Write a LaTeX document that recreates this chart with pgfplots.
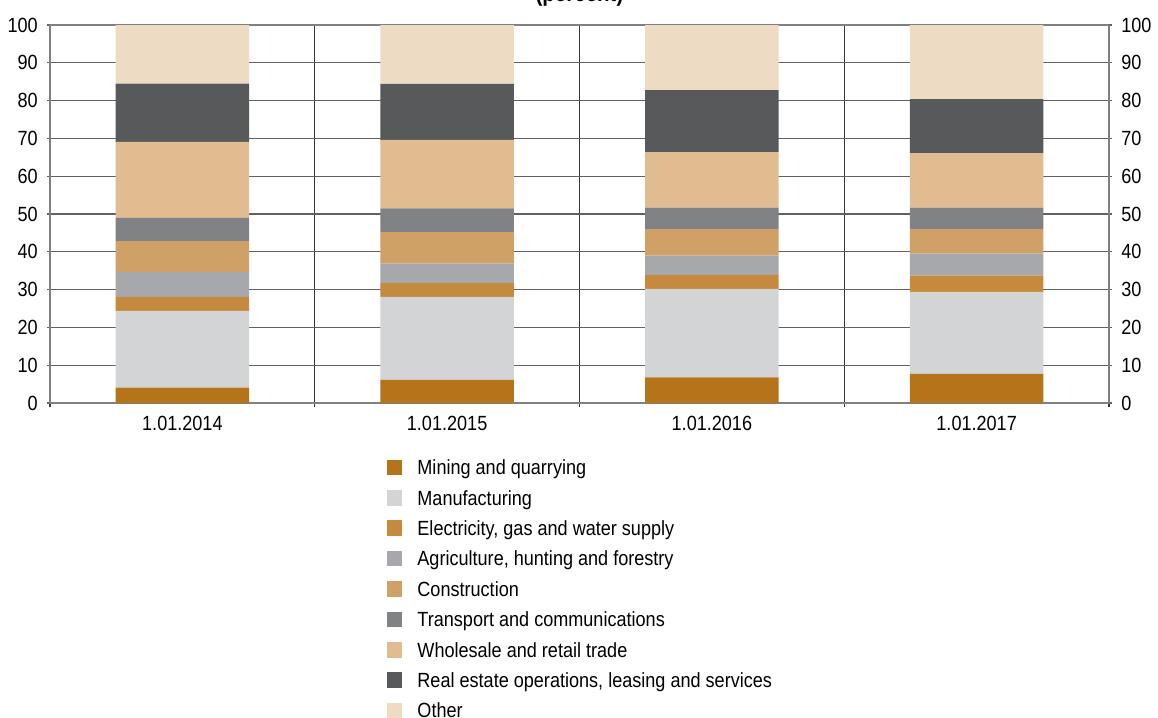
\documentclass[border=0pt]{standalone}
\usepackage{fontspec}
\setmainfont{Liberation Sans}[FakeStretch=0.88]
\usepackage{pgfplots}
\usepackage{pgfplotstable}
\pgfplotsset{compat=1.18}

\definecolor{cMin}{HTML}{B5731A}
\definecolor{cMan}{HTML}{D3D4D6}
\definecolor{cEle}{HTML}{C68A3E}
\definecolor{cAgr}{HTML}{A7A8AB}
\definecolor{cCon}{HTML}{D0A166}
\definecolor{cTra}{HTML}{818285}
\definecolor{cWho}{HTML}{E1BC91}
\definecolor{cRea}{HTML}{58595B}
\definecolor{cOth}{HTML}{EDDCC3}

\pgfplotstableread{
x mining manuf elec agri constr transp whole real other
0 4.1 20.3 3.7 6.5 8.2 6.2 20.1 15.4 15.5
1 6.1 22.0 3.6 5.2 8.3 6.3 18.1 14.8 15.6
2 6.8 23.4 3.6 5.2 7.0 5.7 14.7 16.4 17.2
3 7.7 21.7 4.3 5.8 6.5 5.7 14.4 14.3 19.6
}\data

\begin{document}
\fontsize{15.4pt}{18pt}\selectfont
\begin{tikzpicture}
\begin{axis}[
  scale only axis, width=794.25pt, height=283.5pt,
  ybar stacked, bar width=100pt,
  xmin=-0.5, xmax=3.5, ymin=0, ymax=100,
  /pgf/number format/assume math mode=true,
  xtick={0,1,2,3},
  xticklabels={1.01.2014,1.01.2015,1.01.2016,1.01.2017},
  major x tick style={draw=none},
  minor xtick={-0.5,0.5,1.5,2.5,3.5},
  xminorgrids=true,
  minor x grid style={black!78, line width=0.8pt},
  minor x tick style={black!78, line width=0.8pt},
  xtick pos=left,
  ytick={0,10,...,100},
  ymajorgrids=true,
  y grid style={black!62, line width=0.9pt},
  ytick pos=left,
  y tick style={black!62, line width=0.9pt},
  tick align=outside,
  major tick length=2.5pt,
  minor tick length=3.2pt,
  x axis line style={black, line width=0.9pt},
  y axis line style={black!50, line width=0.9pt},
  yticklabel style={inner sep=0pt, anchor=east, xshift=-6.5pt},
  xticklabel style={inner sep=0pt, anchor=north, yshift=-7pt},
  legend image code/.code={\fill[#1] (0pt,-4.3pt) rectangle (11.6pt,7.3pt);},
  legend cell align=left,
  legend style={at={(0.3182,-0.1492)}, anchor=north west, draw=none, fill=none,
    inner sep=0pt, outer sep=0pt, row sep=7.8pt, column sep=11.25pt,
    nodes={inner sep=0pt, text height=11.5pt, text depth=3.5pt}},
]
\addplot[fill=cMin, draw=none] table[x=x, y=mining]{\data};
\addplot[fill=cMan, draw=none] table[x=x, y=manuf]{\data};
\addplot[fill=cEle, draw=none] table[x=x, y=elec]{\data};
\addplot[fill=cAgr, draw=none] table[x=x, y=agri]{\data};
\addplot[fill=cCon, draw=none] table[x=x, y=constr]{\data};
\addplot[fill=cTra, draw=none] table[x=x, y=transp]{\data};
\addplot[fill=cWho, draw=none] table[x=x, y=whole]{\data};
\addplot[fill=cRea, draw=none] table[x=x, y=real]{\data};
\addplot[fill=cOth, draw=none] table[x=x, y=other]{\data};
\legend{Mining and quarrying, Manufacturing, {Electricity, gas and water supply},
  {Agriculture, hunting and forestry}, Construction, Transport and communications,
  Wholesale and retail trade, {Real estate operations, leasing and services}, Other}
\end{axis}
\begin{axis}[
  scale only axis, width=794.25pt, height=283.5pt,
  xmin=-0.5, xmax=3.5, ymin=0, ymax=100,
  /pgf/number format/assume math mode=true,
  axis x line=none, axis y line*=right,
  ytick={0,10,...,100},
  tick align=outside, major tick length=2.5pt,
  y tick style={black!62, line width=0.9pt},
  y axis line style={black!50, line width=0.9pt},
  yticklabel style={inner sep=0pt, anchor=west, xshift=6.5pt},
]
\end{axis}
\node[anchor=base, font=\bfseries\fontsize{17.5pt}{20pt}\selectfont] at (397.125pt,300.75pt) {(percent)};
\pgfresetboundingbox
\useasboundingbox (-37.5pt,-236.25pt) rectangle (831pt,302.25pt);
\end{tikzpicture}
\end{document}
